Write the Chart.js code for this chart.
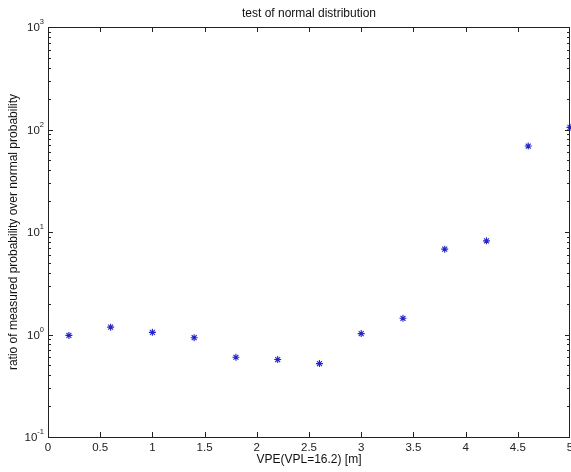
<!DOCTYPE html>
<html>
<head>
<meta charset="utf-8">
<script src="https://cdn.jsdelivr.net/npm/chart.js@4"></script>
<style>
html,body{margin:0;padding:0;background:#fff;}
#wrap{width:571px;height:472px;}
</style>
</head>
<body>
<div id="wrap"><canvas id="c" width="571" height="472"></canvas></div>
<script>
// data
const vpe=[0.2,0.6,1.0,1.4,1.8,2.2,2.6,3.0,3.4,3.8,4.2,4.6,5.0];
const ratio=[0.98,1.18,1.05,0.93,0.60,0.57,0.52,1.02,1.44,6.8,8.2,69,105];
const xTicks=[0,0.5,1,1.5,2,2.5,3,3.5,4,4.5,5];
const yDecades=[0.1,1,10,100,1000];
const yExp=['-1','0','1','2','3'];

const FONT='"Liberation Sans", Arial, Helvetica, sans-serif';

// matlab-like box, inward ticks and 10^n labels
const matlabAxes={
  id:'matlabAxes',
  afterDraw(chart){
    const ctx=chart.ctx,a=chart.chartArea,xs=chart.scales.x,ys=chart.scales.y;
    ctx.save();
    ctx.strokeStyle='#222';ctx.lineWidth=1;
    ctx.strokeRect(Math.round(a.left)+0.5,Math.round(a.top)+0.5,Math.round(a.right-a.left)-1,Math.round(a.bottom-a.top));
    ctx.beginPath();
    xTicks.forEach(v=>{const x=Math.min(Math.round(xs.getPixelForValue(v))+0.5,a.right-0.5);
      ctx.moveTo(x,a.bottom);ctx.lineTo(x,a.bottom-5);
      ctx.moveTo(x,a.top);ctx.lineTo(x,a.top+5);});
    yDecades.forEach((d,i)=>{
      const y=Math.round(ys.getPixelForValue(d))+0.5;
      ctx.moveTo(a.left,y);ctx.lineTo(a.left+5,y);
      ctx.moveTo(a.right,y);ctx.lineTo(a.right-5,y);
      if(i<yDecades.length-1){for(let k=2;k<=9;k++){
        const ym=Math.round(ys.getPixelForValue(d*k))+0.5;
        ctx.moveTo(a.left,ym);ctx.lineTo(a.left+3,ym);
        ctx.moveTo(a.right,ym);ctx.lineTo(a.right-3,ym);}}
    });
    ctx.stroke();
    ctx.fillStyle='#222';ctx.textBaseline='middle';
    yDecades.forEach((d,i)=>{
      const y=ys.getPixelForValue(d);
      ctx.font='7.5px '+FONT;ctx.textAlign='left';
      const ew=ctx.measureText(yExp[i]).width;
      const xr=a.left-4;
      ctx.fillText(yExp[i],xr-ew,y-5);
      ctx.font='11.5px '+FONT;ctx.textAlign='right';
      ctx.fillText('10',xr-ew,y+1);
    });
    ctx.restore();
  }
};

new Chart(document.getElementById('c'),{
  type:'scatter',
  data:{datasets:[{
    data:vpe.map((x,i)=>({x:x,y:ratio[i]})),
    pointStyle:'star',pointRadius:3.5,pointBorderWidth:1.1,
    borderColor:'#2424c8',backgroundColor:'#2424c8',clip:false
  }]},
  options:{
    responsive:false,animation:false,
    layout:{autoPadding:false,padding:{left:0,right:1,top:0,bottom:0}},
    plugins:{
      legend:{display:false},tooltip:{enabled:false},
      title:{display:true,text:'test of normal distribution',fullSize:false,color:'#111',
        font:{family:FONT,size:12,weight:'normal'},padding:{top:6.8,bottom:5.8}}
    },
    scales:{
      x:{type:'linear',min:0,max:5,
        afterBuildTicks:s=>{s.ticks=xTicks.map(v=>({value:v}));},
        afterFit:s=>{s.height=35;s.paddingLeft=0;s.paddingRight=0;},
        grid:{display:false,drawTicks:false},border:{display:false},
        ticks:{color:'#222',padding:4,maxRotation:0,autoSkip:false,font:{family:FONT,size:11.5},
          callback:v=>String(v)},
        title:{display:true,text:'VPE(VPL=16.2) [m]',color:'#111',font:{family:FONT,size:12},padding:{top:0,bottom:4.8}}
      },
      y:{type:'logarithmic',min:0.1,max:1000,
        afterBuildTicks:s=>{s.ticks=yDecades.map(v=>({value:v}));},
        afterFit:s=>{s.width=48;s.paddingTop=0;s.paddingBottom=0;},
        grid:{display:false,drawTicks:false},border:{display:false},
        ticks:{display:false},
        title:{display:true,text:'ratio of measured probability over normal probability',color:'#111',
          font:{family:FONT,size:12},padding:{top:6.8,bottom:0}}
      }
    }
  },
  plugins:[matlabAxes]
});
</script>
</body>
</html>
